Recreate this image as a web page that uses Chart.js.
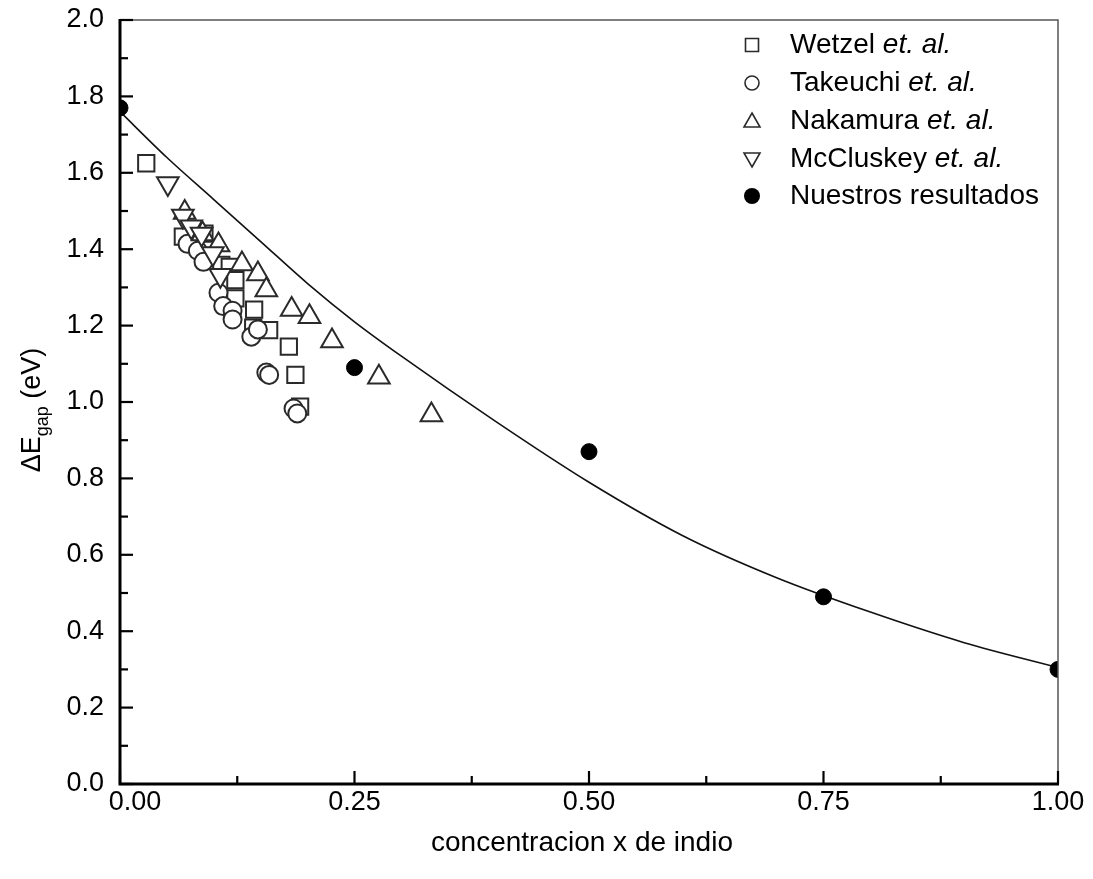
<!DOCTYPE html>
<html>
<head>
<meta charset="utf-8">
<script src="https://cdn.jsdelivr.net/npm/chart.js@4/dist/chart.umd.min.js"></script>
<style>
  body { margin: 0; background: #fff; }
  #wrap { width: 1093px; height: 879px; }
</style>
</head>
<body>
<div id="wrap"><canvas id="gapChart" width="1093" height="879"></canvas></div>
<script>
// datos
const wetzelX = [0.028, 0.067, 0.090, 0.108, 0.117, 0.123, 0.123, 0.143, 0.142, 0.159, 0.180, 0.187, 0.192];
const wetzelY = [1.625, 1.433, 1.441, 1.359, 1.354, 1.319, 1.271, 1.242, 1.195, 1.188, 1.145, 1.071, 0.988];

const takeuchiX = [0.072, 0.083, 0.089, 0.105, 0.110, 0.120, 0.120, 0.140, 0.147, 0.156, 0.159, 0.185, 0.189];
const takeuchiY = [1.414, 1.396, 1.367, 1.286, 1.251, 1.239, 1.216, 1.171, 1.190, 1.077, 1.071, 0.983, 0.970];

const nakamuraX = [0.069, 0.088, 0.105, 0.130, 0.147, 0.156, 0.183, 0.202, 0.226, 0.276, 0.332];
const nakamuraY = [1.496, 1.440, 1.411, 1.361, 1.335, 1.293, 1.242, 1.223, 1.160, 1.065, 0.966];

const mccluskeyX = [0.051, 0.067, 0.076, 0.087, 0.099, 0.107];
const mccluskeyY = [1.572, 1.487, 1.459, 1.440, 1.389, 1.332];

const nuestrosX = [0, 0.25, 0.5, 0.75, 1.0];
const nuestrosY = [1.77, 1.09, 0.87, 0.49, 0.30];

// curva de ajuste (leida punto a punto)
const curveX = [0, 0.05, 0.1, 0.15, 0.2, 0.25, 0.3, 0.4, 0.5, 0.6, 0.7, 0.8, 0.9, 1.0];
const curveY = [1.76, 1.64, 1.53, 1.42, 1.31, 1.21, 1.12, 0.95, 0.79, 0.65, 0.54, 0.45, 0.37, 0.305];

const yTicks = ['0.0', '0.2', '0.4', '0.6', '0.8', '1.0', '1.2', '1.4', '1.6', '1.8', '2.0'];
const xTicks = ['0.00', '0.25', '0.50', '0.75', '1.00'];

const legendNames = ['Wetzel', 'Takeuchi', 'Nakamura', 'McCluskey', 'Nuestros resultados'];

function pts(xs, ys) {
  return xs.map((x, i) => ({ x: x, y: ys[i] }));
}

const stroke = '#2a2a2a';

const data = {
  datasets: [
    {
      type: 'line', label: 'ajuste', data: pts(curveX, curveY),
      borderColor: '#111', borderWidth: 1.6, pointRadius: 0,
      showLine: true, cubicInterpolationMode: 'monotone', fill: false, order: 6
    },
    {
      label: legendNames[0], data: pts(wetzelX, wetzelY), pointStyle: 'rect',
      pointRadius: 11.5, backgroundColor: '#fff', borderColor: stroke, borderWidth: 2, order: 5
    },
    {
      label: legendNames[1], data: pts(takeuchiX, takeuchiY), pointStyle: 'circle',
      pointRadius: 9, backgroundColor: '#fff', borderColor: stroke, borderWidth: 2, order: 4
    },
    {
      label: legendNames[2], data: pts(nakamuraX, nakamuraY), pointStyle: 'triangle',
      pointRadius: 12.5, backgroundColor: '#fff', borderColor: stroke, borderWidth: 2, order: 3
    },
    {
      label: legendNames[3], data: pts(mccluskeyX, mccluskeyY), pointStyle: 'triangle', rotation: 180,
      pointRadius: 12.5, backgroundColor: '#fff', borderColor: stroke, borderWidth: 2, order: 2
    },
    {
      label: legendNames[4], data: pts(nuestrosX, nuestrosY), pointStyle: 'circle',
      pointRadius: 8, backgroundColor: '#000', borderColor: '#000', borderWidth: 1, order: 1
    }
  ]
};

// ejes, marcas, textos y leyenda dibujados a mano
const frame = {
  id: 'frame',
  afterDraw(chart) {
    const ctx = chart.ctx;
    const xs = chart.scales.x, ys = chart.scales.y;
    const L = chart.chartArea.left, R = chart.chartArea.right;
    const T = chart.chartArea.top, B = chart.chartArea.bottom;
    ctx.save();

    // marco fino arriba y a la derecha
    ctx.strokeStyle = '#555';
    ctx.lineWidth = 1.5;
    ctx.beginPath();
    ctx.moveTo(L, T); ctx.lineTo(R, T); ctx.lineTo(R, B);
    ctx.stroke();

    // ejes gruesos
    ctx.strokeStyle = '#000';
    ctx.lineWidth = 3;
    ctx.beginPath();
    ctx.moveTo(L, T - 1); ctx.lineTo(L, B); ctx.lineTo(R + 1, B);
    ctx.stroke();

    // marcas eje y
    ctx.lineWidth = 2.2;
    for (let i = 0; i <= 20; i++) {
      const py = ys.getPixelForValue(i * 0.1);
      const len = i % 2 === 0 ? 13 : 8;
      ctx.beginPath(); ctx.moveTo(L, py); ctx.lineTo(L + len, py); ctx.stroke();
    }
    // marcas eje x
    for (let i = 0; i <= 8; i++) {
      const px = xs.getPixelForValue(i * 0.125);
      const len = i % 2 === 0 ? 13 : 8;
      ctx.beginPath(); ctx.moveTo(px, B); ctx.lineTo(px, B - len); ctx.stroke();
    }

    // etiquetas eje y
    ctx.fillStyle = '#000';
    ctx.font = '27px "Liberation Sans"';
    ctx.textAlign = 'right';
    ctx.textBaseline = 'middle';
    yTicks.forEach((t, i) => {
      ctx.fillText(t, 104, ys.getPixelForValue(i * 0.2));
    });

    // etiquetas eje x
    ctx.font = '27px "Liberation Sans"';
    ctx.textAlign = 'center';
    ctx.textBaseline = 'top';
    xTicks.forEach((t, i) => {
      let px = xs.getPixelForValue(i * 0.25);
      if (i === 0) px += 15;
      ctx.fillText(t, px, 789);
    });

    // titulo eje x
    ctx.font = '28px "Liberation Sans"';
    ctx.textBaseline = 'middle';
    ctx.fillText('concentracion x de indio', 582, 843);

    // titulo eje y con subindice
    ctx.save();
    ctx.translate(33, 410);
    ctx.rotate(-Math.PI / 2);
    ctx.textAlign = 'left';
    ctx.textBaseline = 'middle';
    const big = '27px "Liberation Sans"', small = '18px "Liberation Sans"';
    ctx.font = big;
    const w1 = ctx.measureText('\u0394E').width;
    const w3 = ctx.measureText(' (eV)').width;
    ctx.font = small;
    const w2 = ctx.measureText('gap').width;
    let x0 = -(w1 + w2 + w3) / 2;
    ctx.font = big;
    ctx.fillText('\u0394E', x0, 0);
    ctx.font = small;
    ctx.fillText('gap', x0 + w1, 10);
    ctx.font = big;
    ctx.fillText(' (eV)', x0 + w1 + w2, 0);
    ctx.restore();

    // leyenda
    const rows = [45, 83, 121, 159, 196];
    const mx = 752, tx = 790;
    ctx.lineWidth = 1.6;
    ctx.strokeStyle = stroke;
    rows.forEach((ry, i) => {
      ctx.beginPath();
      if (i === 0) {
        ctx.rect(mx - 6.5, ry - 6.5, 13, 13);
      } else if (i === 1) {
        ctx.arc(mx, ry, 7, 0, Math.PI * 2);
      } else if (i === 2) {
        ctx.moveTo(mx, ry - 8); ctx.lineTo(mx + 8, ry + 6); ctx.lineTo(mx - 8, ry + 6); ctx.closePath();
      } else if (i === 3) {
        ctx.moveTo(mx, ry + 8); ctx.lineTo(mx + 8, ry - 6); ctx.lineTo(mx - 8, ry - 6); ctx.closePath();
      } else {
        ctx.arc(mx, ry, 8, 0, Math.PI * 2);
      }
      if (i === 4) { ctx.fillStyle = '#000'; ctx.fill(); }
      else ctx.stroke();

      ctx.fillStyle = '#000';
      ctx.textAlign = 'left';
      ctx.textBaseline = 'middle';
      ctx.font = '28px "Liberation Sans"';
      ctx.fillText(legendNames[i], tx, ry);
      if (i < 4) {
        const w = ctx.measureText(legendNames[i] + ' ').width;
        ctx.font = 'italic 28px "Liberation Sans"';
        ctx.fillText('et. al.', tx + w, ry);
      }
    });

    ctx.restore();
  }
};

const config = {
  type: 'scatter',
  data: data,
  options: {
    responsive: false,
    animation: false,
    layout: { padding: { left: 120, top: 20, right: 35, bottom: 95 } },
    plugins: { legend: { display: false }, tooltip: { enabled: false } },
    scales: {
      x: { type: 'linear', min: 0, max: 1, display: false },
      y: { type: 'linear', min: 0, max: 2, display: false }
    }
  },
  plugins: [frame]
};

const gapChart = new Chart(document.getElementById('gapChart').getContext('2d'), config);
</script>
</body>
</html>
